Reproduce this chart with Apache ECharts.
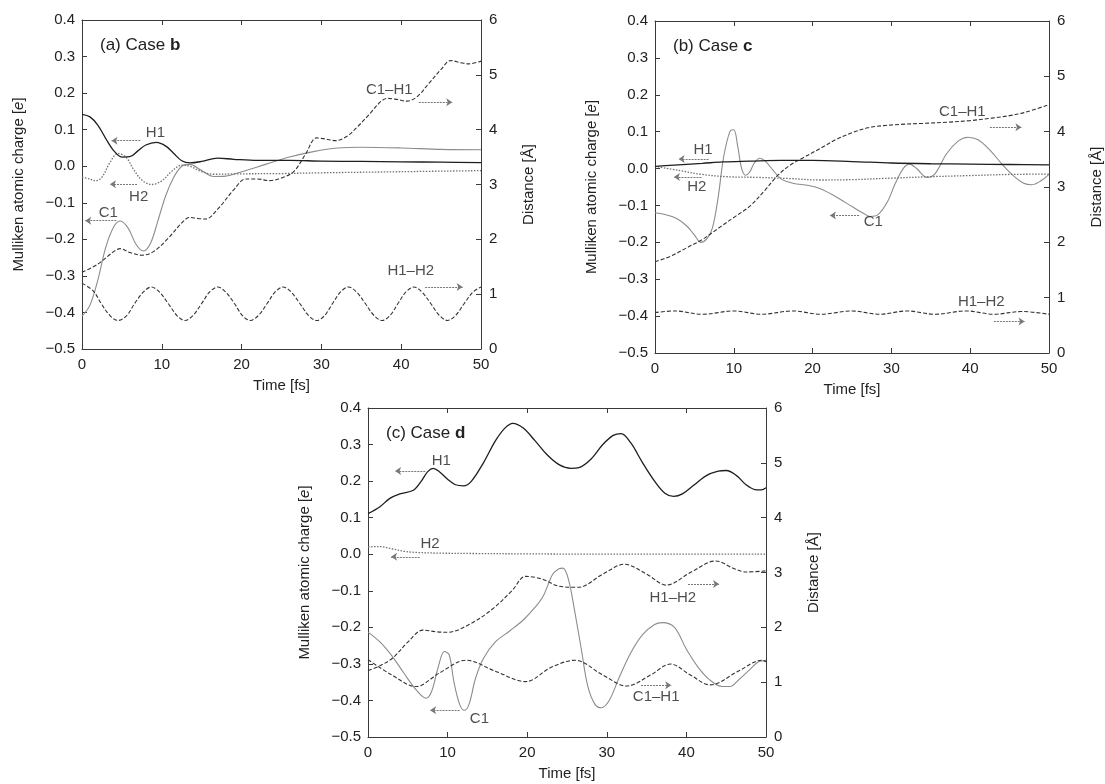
<!DOCTYPE html>
<html>
<head>
<meta charset="utf-8">
<script src="https://cdn.jsdelivr.net/npm/echarts@6/dist/echarts.min.js"></script>
<style>
  html, body { margin: 0; padding: 0; background: #fff; }
  #chart { width: 1105px; height: 784px; }
</style>
</head>
<body>
<div id="chart"></div>
<script>
// ---- data: [time fs, value] ----
// panel (a) Case b : charges (left axis, e) and distances (right axis, Å)
const aH1 = [[0,0.142],[1,0.135],[2,0.112],[3,0.075],[4,0.042],[5,0.025],[6,0.026],[7,0.042],[8,0.058],[9.3,0.065],[10.5,0.055],[11.5,0.035],[12.5,0.015],[13.5,0.009],[15,0.013],[17,0.022],[19,0.019],[22,0.016],[26,0.016],[30,0.014],[35,0.013],[40,0.012],[45,0.011],[50,0.01]]
const aH2 = [[0,-0.03],[1,-0.035],[1.7,-0.04],[2.5,-0.03],[3.5,0.01],[4.5,0.035],[5.5,0.025],[6.5,-0.01],[7.5,-0.038],[8.7,-0.05],[10,-0.04],[11.2,-0.015],[12.5,0.003],[13.5,0.0],[15,-0.015],[16.5,-0.022],[19,-0.021],[25,-0.02],[30,-0.018],[40,-0.015],[50,-0.012]]
const aC1 = [[0,-0.41],[1,-0.38],[2,-0.31],[3,-0.22],[4,-0.165],[4.8,-0.15],[5.8,-0.17],[6.8,-0.215],[7.7,-0.232],[8.6,-0.21],[9.5,-0.15],[10.5,-0.08],[11.5,-0.03],[12.5,0.0],[13.5,0.005],[15,-0.012],[16.5,-0.028],[18,-0.027],[20,-0.015],[23,0.005],[26,0.025],[29,0.04],[32,0.05],[35,0.052],[40,0.05],[45,0.046],[50,0.045]]
const aC1H1 = [[0,1.4],[2,1.55],[4,1.78],[4.8,1.83],[6,1.76],[7.5,1.71],[9,1.78],[11,2.05],[12.5,2.3],[13.5,2.4],[14.5,2.38],[15.5,2.37],[17,2.55],[19,2.9],[20.5,3.1],[22,3.1],[23.5,3.07],[25,3.12],[26.5,3.23],[28,3.55],[29.4,3.85],[30.5,3.83],[31.8,3.8],[33.2,3.88],[34.5,4.05],[36,4.28],[37.5,4.52],[38.3,4.57],[39.5,4.55],[40.7,4.52],[42,4.6],[43.5,4.85],[45,5.1],[46.2,5.26],[47.5,5.22],[48.5,5.2],[50,5.25]]
const aH1H2 = [[0,1.2],[1.4,1.06],[2.4,0.83],[3.5,0.61],[4.5,0.52],[5.6,0.61],[6.6,0.83],[7.7,1.04],[8.7,1.13],[9.7,1.04],[10.8,0.83],[11.9,0.61],[12.9,0.52],[13.9,0.61],[15,0.83],[16,1.04],[17,1.13],[18,1.04],[19.1,0.83],[20.1,0.61],[21.1,0.52],[22.1,0.61],[23.2,0.83],[24.2,1.04],[25.2,1.13],[26.2,1.04],[27.3,0.83],[28.4,0.61],[29.4,0.52],[30.4,0.61],[31.4,0.83],[32.4,1.04],[33.4,1.13],[34.4,1.04],[35.5,0.83],[36.6,0.61],[37.6,0.52],[38.6,0.61],[39.6,0.83],[40.6,1.04],[41.6,1.13],[42.6,1.04],[43.7,0.83],[44.8,0.61],[45.8,0.52],[46.8,0.61],[47.9,0.83],[49,1.04],[50,1.13]]

// panel (b) Case c
const bH1 = [[0,0.006],[3,0.01],[6,0.014],[8.6,0.018],[12,0.02],[16,0.022],[20,0.022],[25,0.019],[30,0.015],[35,0.013],[40,0.012],[45,0.011],[50,0.01]]
const bH2 = [[0,0.006],[3,-0.005],[6,-0.016],[9,-0.022],[13,-0.024],[17,-0.027],[21,-0.031],[25,-0.03],[30,-0.026],[35,-0.022],[40,-0.019],[45,-0.016],[50,-0.015]]
const bC1 = [[0,-0.12],[1.5,-0.126],[2.8,-0.136],[4,-0.155],[5,-0.18],[5.8,-0.2],[6.6,-0.19],[7.3,-0.16],[8,-0.08],[8.7,0.03],[9.5,0.1],[10,0.105],[10.5,0.06],[11,0.0],[11.5,-0.018],[12,-0.01],[12.6,0.015],[13.3,0.028],[14,0.02],[15,-0.005],[16,-0.028],[17.5,-0.04],[19.5,-0.046],[21,-0.055],[23,-0.077],[25,-0.103],[26.5,-0.122],[27.3,-0.13],[28.3,-0.125],[29.5,-0.09],[30.5,-0.04],[31.5,0.0],[32.3,0.012],[33.2,0.0],[34.5,-0.024],[35.5,-0.015],[37,0.04],[38.5,0.075],[39.7,0.085],[41,0.078],[42.5,0.05],[44,0.013],[45.5,-0.02],[46.8,-0.04],[47.8,-0.044],[49,-0.033],[50,-0.016]]
const bC1H1 = [[0,1.65],[2,1.75],[4,1.9],[6,2.05],[8,2.25],[10,2.45],[12,2.65],[14,2.95],[15.5,3.2],[17,3.38],[18.7,3.52],[21,3.7],[23,3.86],[25,3.98],[27,4.07],[29,4.11],[31,4.13],[34,4.15],[37,4.17],[40,4.2],[43,4.25],[45,4.29],[47,4.35],[50,4.49]]
const bH1H2 = [[0,0.73],[2.5,0.76],[6,0.7],[10,0.76],[13.5,0.7],[17.5,0.76],[21,0.7],[25,0.76],[28.5,0.7],[32,0.76],[35.5,0.7],[39.5,0.76],[43,0.7],[46.5,0.75],[50,0.7]]

// panel (c) Case d
const cH1 = [[0,0.111],[1.5,0.13],[2.7,0.152],[4,0.165],[5.7,0.175],[6.7,0.2],[7.5,0.226],[8.2,0.235],[9,0.225],[10,0.205],[11,0.19],[12,0.187],[13,0.2],[14.5,0.25],[16,0.31],[17.2,0.345],[18.2,0.358],[19.5,0.345],[21,0.31],[22.5,0.272],[24,0.245],[25.5,0.235],[26.5,0.237],[28,0.26],[29.5,0.3],[30.8,0.325],[31.8,0.33],[33,0.305],[34.5,0.25],[36,0.2],[37.3,0.167],[38.4,0.158],[39.5,0.165],[41,0.19],[42.5,0.215],[44,0.227],[45,0.229],[46.3,0.215],[47.5,0.19],[48.6,0.177],[49.4,0.176],[50,0.182]]
const cH2 = [[0,0.02],[1.5,0.021],[3,0.015],[4.5,0.008],[6,0.005],[9,0.003],[13,0.002],[20,0.001],[30,0.0],[40,0.0],[50,0.0]]
const cC1 = [[0,-0.213],[1.5,-0.24],[3,-0.278],[4.5,-0.325],[6,-0.37],[7.3,-0.394],[8,-0.375],[8.8,-0.31],[9.6,-0.266],[10.2,-0.275],[10.8,-0.35],[11.5,-0.41],[12.1,-0.427],[12.7,-0.41],[13.5,-0.34],[14.5,-0.285],[16,-0.24],[17.8,-0.21],[19.5,-0.18],[21,-0.145],[22,-0.115],[23.2,-0.055],[24,-0.04],[24.5,-0.038],[25.2,-0.07],[26,-0.16],[26.8,-0.26],[27.6,-0.36],[28.5,-0.41],[29.3,-0.42],[30.3,-0.4],[31.5,-0.34],[33,-0.27],[34.5,-0.22],[36,-0.192],[37,-0.187],[38.5,-0.2],[40,-0.26],[41.5,-0.31],[43,-0.345],[44.5,-0.362],[45.5,-0.362],[46.5,-0.345],[48,-0.315],[49,-0.295],[50,-0.29]]
const cC1H1 = [[0,1.41],[3,1.13],[6,0.92],[9,1.17],[12.3,1.4],[16,1.2],[19.8,1.01],[23,1.27],[26,1.4],[29.5,1.13],[32.5,0.93],[35.5,1.13],[38,1.33],[40.5,1.13],[43,0.95],[46.5,1.2],[49.5,1.4],[50,1.37]]
const cH1H2 = [[0,1.21],[1.5,1.3],[3.1,1.44],[5,1.73],[6.9,1.95],[8.5,1.92],[10,1.91],[12.7,2.05],[15.6,2.33],[18.1,2.67],[19.8,2.93],[21.9,2.88],[24,2.75],[26.4,2.73],[29.5,2.97],[32.2,3.15],[35,2.97],[37.5,2.77],[40.5,3.0],[43.7,3.21],[46,3.07],[47.5,3.01],[50,3.03]]

// annotations: labels [t, value, text], arrows [tFrom, tTo, value]
const aLabels = [[9.2,0.09,'H1'],[7.1,-0.083,'H2'],[3.3,-0.127,'C1']]
const aLabelsR = [[38.5,4.72,'C1–H1'],[41.2,1.43,'H1–H2']]
const aArrows = [[7.3,3.7,0.07],[6.9,3.5,-0.049],[4.3,0.4,-0.149]]
const aArrowsR = [[42.2,46.4,4.5],[43,47.7,1.13]]

const bLabels = [[6.1,0.051,'H1'],[5.3,-0.049,'H2'],[27.7,-0.145,'C1']]
const bLabelsR = [[39,4.35,'C1–H1'],[41.4,0.93,'H1–H2']]
const bArrows = [[6.8,3.0,0.026],[5.9,2.4,-0.023],[25.9,22.2,-0.127]]
const bArrowsR = [[42.5,46.5,4.08],[43,46.9,0.57]]

const cLabels = [[9.2,0.256,'H1'],[7.8,0.028,'H2'],[14,-0.45,'C1']]
const cLabelsR = [[38.3,2.53,'H1–H2'],[36.2,0.73,'C1–H1']]
const cArrows = [[7.2,3.4,0.228],[6.5,2.9,-0.007],[11.5,7.8,-0.427]]
const cArrowsR = [[40.2,44.1,2.79],[34.3,38.1,0.946]]

const chargeTicks = { min: -0.5, max: 0.4, interval: 0.1 }
const distTicks = { min: 0, max: 6, interval: 1 }
const timeTicks = { min: 0, max: 50, interval: 10 }

const FONT = '"Liberation Sans", Arial, sans-serif'
const AXIS_COLOR = '#3a3a3a'

const panels = [
  { rect: { left: 82, top: 20, width: 399, height: 329 }, tag: '(a) Case ', id: 'b',
    H1: aH1, H2: aH2, C1: aC1, C1H1: aC1H1, H1H2: aH1H2,
    labels: aLabels, labelsR: aLabelsR, arrows: aArrows, arrowsR: aArrowsR },
  { rect: { left: 655, top: 21, width: 397, height: 332 }, tag: '(b) Case ', id: 'c',
    H1: bH1, H2: bH2, C1: bC1, C1H1: bC1H1, H1H2: bH1H2,
    labels: bLabels, labelsR: bLabelsR, arrows: bArrows, arrowsR: bArrowsR },
  { rect: { left: 368, top: 408, width: 398, height: 329 }, tag: '(c) Case ', id: 'd',
    H1: cH1, H2: cH2, C1: cC1, C1H1: cC1H1, H1H2: cH1H2,
    labels: cLabels, labelsR: cLabelsR, arrows: cArrows, arrowsR: cArrowsR }
]

function chargeLabel(v) {
  return (v < -1e-9 ? '\u2212' : '') + Math.abs(v).toFixed(1)
}

const axisLine = { show: true, onZero: false, lineStyle: { color: AXIS_COLOR, width: 1 } }
const axisTick = { show: true, inside: true, length: 5, lineStyle: { color: AXIS_COLOR } }
const tickFont = { color: '#222', fontSize: 15, fontFamily: FONT }
const nameFont = { color: '#222', fontSize: 15, fontFamily: FONT }

const grid = []
const xAxis = []
const yAxis = []
const series = []
const title = []

panels.forEach((p, i) => {
  grid.push(Object.assign({ show: false }, p.rect))
  title.push({
    text: p.tag + '{b|' + p.id + '}',
    left: p.rect.left + 13,
    top: p.rect.top + 12,
    textStyle: { fontSize: 17, fontWeight: 'normal', color: '#222', fontFamily: FONT,
      rich: { b: { fontSize: 17, fontWeight: 'bold', color: '#222', fontFamily: FONT } } }
  })
  // bottom and top time axes
  xAxis.push(Object.assign({
    type: 'value', gridIndex: i, position: 'bottom',
    name: 'Time [fs]', nameLocation: 'middle', nameGap: 29, nameTextStyle: nameFont,
    axisLine, axisTick, splitLine: { show: false },
    axisLabel: Object.assign({ margin: 8 }, tickFont)
  }, timeTicks))
  xAxis.push(Object.assign({
    type: 'value', gridIndex: i, position: 'top',
    axisLine, axisTick, splitLine: { show: false }, axisLabel: { show: false }
  }, timeTicks))
  // left charge axis and right distance axis
  yAxis.push(Object.assign({
    type: 'value', gridIndex: i, position: 'left',
    name: 'Mulliken atomic charge [{i|e}]', nameLocation: 'middle', nameGap: 56,
    nameTextStyle: Object.assign({ rich: { i: { fontStyle: 'italic', fontSize: 15, fontFamily: FONT, color: '#222' } } }, nameFont),
    axisLine, axisTick, splitLine: { show: false },
    axisLabel: Object.assign({ margin: 7, formatter: chargeLabel }, tickFont)
  }, chargeTicks))
  yAxis.push(Object.assign({
    type: 'value', gridIndex: i, position: 'right',
    name: 'Distance [Å]', nameLocation: 'middle', nameGap: 40, nameTextStyle: nameFont,
    axisLine, axisTick, splitLine: { show: false },
    axisLabel: Object.assign({ margin: 8 }, tickFont)
  }, distTicks))

  const xl = 2 * i, yl = 2 * i, yr = 2 * i + 1
  const line = (name, data, yIdx, style, z) => ({
    name, type: 'line', data, xAxisIndex: xl, yAxisIndex: yIdx,
    smooth: 0.35, showSymbol: false, symbol: 'none', silent: true, z,
    lineStyle: style
  })
  series.push(line('C1', p.C1, yl, { color: '#8c8c8c', width: 1.1 }, 2))
  series.push(line('H2', p.H2, yl, { color: '#707070', width: 1.3, type: [1.5, 1.5] }, 3))
  series.push(line('C1–H1', p.C1H1, yr, { color: '#333', width: 1.1, type: [4, 2] }, 3))
  series.push(line('H1–H2', p.H1H2, yr, { color: '#333', width: 1.1, type: [4, 2] }, 3))
  series.push(line('H1', p.H1, yl, { color: '#1e1e1e', width: 1.3 }, 4))

  // labels and arrows pointing to the axis each curve belongs to
  const notes = (labels, arrows, yIdx) => ({
    type: 'scatter', xAxisIndex: xl, yAxisIndex: yIdx, silent: true, z: 5,
    symbolSize: 0,
    data: labels.map(l => ({ value: [l[0], l[1]], name: l[2] })),
    label: { show: true, position: 'inside', formatter: '{b}', color: '#222', fontSize: 15, fontFamily: FONT },
    markLine: {
      silent: true, animation: false,
      symbol: ['none', 'arrow'], symbolSize: 6,
      label: { show: false },
      lineStyle: { color: '#777', width: 1, type: [2, 1] },
      data: arrows.map(a => [{ coord: [a[0], a[2]] }, { coord: [a[1], a[2]] }])
    }
  })
  series.push(notes(p.labels, p.arrows, yl))
  series.push(notes(p.labelsR, p.arrowsR, yr))
})

const chart = echarts.init(document.getElementById('chart'))
chart.setOption({
  animation: false,
  backgroundColor: '#fff',
  title,
  grid,
  xAxis,
  yAxis,
  series
})
</script>
</body>
</html>
